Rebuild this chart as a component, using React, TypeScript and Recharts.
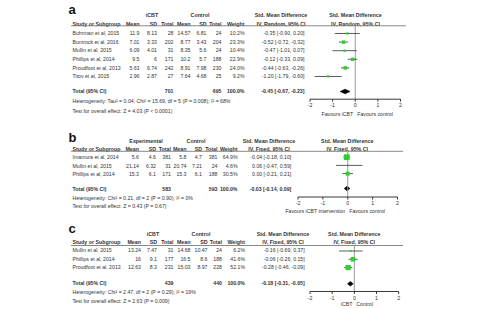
import React from "react";
import { ComposedChart, Scatter, ErrorBar, Area, XAxis, YAxis, ReferenceLine } from "recharts";

const FONT = "'Liberation Sans', Arial, Helvetica, sans-serif";
const INK = "#333333";
const GREEN = "#33cc33";

// ---------- Panel a (iCBT vs Control, random effects)
const A_STUDIES = ["Buhrman et al, 2015", "Buntrock et al, 2016", "Mullin et al, 2015", "Phillips et al, 2014", "Proudfoot et al, 2013", "Titov et al, 2015"];
const A_EXP_MEAN = [11.9, 7.01, 6.09, 9.5, 5.63, 2.96];
const A_EXP_SD = [8.13, 3.33, 4.01, 6, 6.74, 2.87];
const A_EXP_N = [28, 202, 31, 171, 242, 27];
const A_CTL_MEAN = [14.57, 8.77, 8.35, 10.2, 8.91, 7.64];
const A_CTL_SD = [6.81, 3.43, 5.6, 5.7, 7.98, 4.68];
const A_CTL_N = [24, 204, 24, 188, 230, 25];
const A_WEIGHT = [10.2, 23.3, 10.4, 22.9, 24.0, 9.2];
const A_SMD = [-0.35, -0.52, -0.47, -0.12, -0.44, -1.2];
const A_LO = [-0.9, -0.72, -1.01, -0.33, -0.63, -1.79];
const A_HI = [0.2, -0.32, 0.07, 0.09, -0.26, -0.6];
const A_TOTAL_N = [701, 695];
const A_TOTAL_EST = [-0.45, -0.67, -0.23];
const A_GROUPS = ["iCBT", "Control"];
const A_METHOD = "IV, Random, 95% CI";
const A_HET = "Heterogeneity: Tau² = 0.04; Chi² = 15.69, df = 5 (P = 0.008); I² = 68%";
const A_TEST = "Test for overall effect: Z = 4.03 (P < 0.0001)";
const A_FAVOURS = ["Favours iCBT", "Favours control"];

// ---------- Panel b (Experimental vs Control, fixed effects)
const B_STUDIES = ["Imamura et al, 2014", "Mullin et al, 2015", "Phillips et al, 2014"];
const B_EXP_MEAN = [5.6, 21.14, 15.3];
const B_EXP_SD = [4.6, 6.32, 6.1];
const B_EXP_N = [381, 31, 171];
const B_CTL_MEAN = [5.8, 20.74, 15.3];
const B_CTL_SD = [4.7, 7.21, 6.1];
const B_CTL_N = [381, 24, 188];
const B_WEIGHT = [64.9, 4.6, 30.5];
const B_SMD = [-0.04, 0.06, 0.0];
const B_LO = [-0.18, -0.47, -0.21];
const B_HI = [0.1, 0.59, 0.21];
const B_TOTAL_N = [583, 593];
const B_TOTAL_EST = [-0.03, -0.14, 0.09];
const B_GROUPS = ["Experimental", "Control"];
const B_METHOD = "IV, Fixed, 95% CI";
const B_HET = "Heterogeneity: Chi² = 0.21, df = 2 (P = 0.90); I² = 0%";
const B_TEST = "Test for overall effect: Z = 0.43 (P = 0.67)";
const B_FAVOURS = ["Favours iCBT intervention", "Favours control"];

// ---------- Panel c (iCBT vs Control, fixed effects)
const C_STUDIES = ["Mullin et al, 2015", "Phillips et al, 2014", "Proudfoot et al, 2013"];
const C_EXP_MEAN = [13.24, 16, 12.63];
const C_EXP_SD = [7.47, 9.1, 8.3];
const C_EXP_N = [31, 177, 231];
const C_CTL_MEAN = [14.68, 16.5, 15.03];
const C_CTL_SD = [10.47, 8.6, 8.97];
const C_CTL_N = [24, 188, 228];
const C_WEIGHT = [6.2, 41.6, 52.1];
const C_SMD = [-0.16, -0.06, -0.28];
const C_LO = [-0.69, -0.26, -0.46];
const C_HI = [0.37, 0.15, -0.09];
const C_TOTAL_N = [439, 440];
const C_TOTAL_EST = [-0.18, -0.31, -0.05];
const C_GROUPS = ["iCBT", "Control"];
const C_METHOD = "IV, Fixed, 95% CI";
const C_HET = "Heterogeneity: Chi² = 2.47, df = 2 (P = 0.29); I² = 19%";
const C_TEST = "Test for overall effect: Z = 2.63 (P = 0.009)";
const C_FAVOURS = ["iCBT", "Control"];

const COL_HEADS = ["Mean", "SD", "Total", "Mean", "SD", "Total", "Weight"];
const X_TICKS = [-2, -1, 0, 1, 2];

type Row = { study: string; cells: number[]; w: number; smd: number; lo: number; hi: number };

function makeRows(st: string[], m1: number[], s1: number[], n1: number[], m2: number[], s2: number[], n2: number[], w: number[], smd: number[], lo: number[], hi: number[]): Row[] {
  return st.map((s, i) => ({ study: s, cells: [m1[i], s1[i], n1[i], m2[i], s2[i], n2[i]], w: w[i], smd: smd[i], lo: lo[i], hi: hi[i] }));
}

const ci = (e: number, l: number, h: number) => `${e.toFixed(2)} [${l.toFixed(2)}, ${h.toFixed(2)}]`;

// ---------- layouts (pixel positions only)
const LA = {
  letter: "a", letterY: 13.5, groupY: 15, headY: 23.6, lineY: 25.8, lineEnd: 406,
  row0: 33.3, step: 8.6, totalY: 91.3, hetY: 100.8, testY: 110.8,
  cols: [139.5, 157, 173.5, 190.5, 206.5, 221.5, 244.5, 304.5],
  grpX: [152, 200], smdX: 281, plotX: 355.5,
  x0: 310, x1: 400.5, axisY: 99, favY: 114.3, diamondH: 2.3,
};
const LB = {
  letter: "b", letterY: 142, groupY: 140.8, headY: 148.7, lineY: 151.3, lineEnd: 403,
  row0: 157.5, step: 8.2, totalY: 188.8, hetY: 198.2, testY: 206.2,
  cols: [139, 156, 171, 186.5, 202, 217.5, 237.5, 291.3],
  grpX: [146, 196], smdX: 269, plotX: 347.3,
  x0: 297.5, x1: 397, axisY: 197.3, favY: 211, diamondH: 2.3,
};
const LC = {
  letter: "c", letterY: 233.3, groupY: 234.3, headY: 242.3, lineY: 245.5, lineEnd: 403,
  row0: 250.5, step: 8.3, totalY: 283.3, hetY: 292.3, testY: 300.7,
  cols: [141, 157, 173.5, 190.5, 207.5, 222, 245, 304.7],
  grpX: [153, 201], smdX: 283, plotX: 354.3,
  x0: 310, x1: 398.7, axisY: 291, favY: 304.3, diamondH: 2.3,
};

const T = (p: any) => {
  const { x, y, children, anchor = "start", bold = false, size = 5.2, fill = INK } = p;
  return (
    <text x={x} y={y + size * 0.36} textAnchor={anchor} fontSize={size} fontWeight={bold ? "bold" : "normal"} fill={fill} fontFamily={FONT}>
      {children}
    </text>
  );
};

function Table({ L, rows, totalN, totalEst, groups, method, het, test, favours }: any) {
  const c = L.cols;
  const zero = (L.x0 + L.x1) / 2;
  return (
    <g>
      <text x={68.5} y={L.letterY} fontSize={13} fontWeight="bold" fill="#111" fontFamily={FONT}>{L.letter}</text>
      <T x={L.grpX[0]} y={L.groupY} anchor="middle" bold size={5.3}>{groups[0]}</T>
      <T x={L.grpX[1]} y={L.groupY} anchor="middle" bold size={5.3}>{groups[1]}</T>
      <T x={L.smdX} y={L.groupY} anchor="middle" bold size={5.3}>Std. Mean Difference</T>
      <T x={L.plotX} y={L.groupY} anchor="middle" bold size={5.3}>Std. Mean Difference</T>
      <T x={72.5} y={L.headY} bold size={5.3}>Study or Subgroup</T>
      {COL_HEADS.map((h, i) => (
        <T key={i} x={c[i]} y={L.headY} anchor="end" bold size={5.3}>{h}</T>
      ))}
      <T x={L.smdX} y={L.headY} anchor="middle" bold size={5.3}>{method}</T>
      <T x={L.plotX} y={L.headY} anchor="middle" bold size={5.3}>{method}</T>
      <line x1={71} x2={L.lineEnd} y1={L.lineY} y2={L.lineY} stroke="#7a7a7a" strokeWidth={0.9} />
      {rows.map((r: Row, i: number) => {
        const y = L.row0 + i * L.step;
        return (
          <g key={i}>
            <T x={72.5} y={y}>{r.study}</T>
            {r.cells.map((v, j) => (
              <T key={j} x={c[j]} y={y} anchor="end">{String(v)}</T>
            ))}
            <T x={c[6]} y={y} anchor="end">{r.w.toFixed(1) + "%"}</T>
            <T x={c[7]} y={y} anchor="end">{ci(r.smd, r.lo, r.hi)}</T>
          </g>
        );
      })}
      <T x={72.5} y={L.totalY} bold>Total (95% CI)</T>
      <T x={c[2]} y={L.totalY} anchor="end" bold>{String(totalN[0])}</T>
      <T x={c[5]} y={L.totalY} anchor="end" bold>{String(totalN[1])}</T>
      <T x={c[6]} y={L.totalY} anchor="end" bold>100.0%</T>
      <T x={c[7]} y={L.totalY} anchor="end" bold>{ci(totalEst[0], totalEst[1], totalEst[2])}</T>
      <T x={72.5} y={L.hetY}>{het}</T>
      <T x={72.5} y={L.testY}>{test}</T>
      <T x={zero - 2} y={L.favY} anchor="end">{favours[0]}</T>
      <T x={zero + 2} y={L.favY}>{favours[1]}</T>
    </g>
  );
}

const Square = (props: any) => {
  const { cx, cy, payload } = props;
  if (cx == null || cy == null) return null;
  const s = 0.72 * Math.sqrt(payload.w);
  return <rect x={cx - s / 2} y={cy - s / 2} width={s} height={s} fill={GREEN} />;
};

function Forest({ L, rows, totalEst }: any) {
  const pad = 12;
  const xh = 18;
  const width = L.x1 - L.x0 + pad * 2;
  const height = L.axisY - L.lineY + xh;
  const yMin = (L.lineY - L.row0) / L.step;
  const yMax = (L.axisY - L.row0) / L.step;
  const tIdx = (L.totalY - L.row0) / L.step;
  const dh = L.diamondH / L.step;
  const pts = rows.map((r: Row, i: number) => ({ x: r.smd, y: i, err: [r.smd - r.lo, r.hi - r.smd], w: r.w }));
  const diamond = [
    { x: totalEst[1], d: [tIdx, tIdx] },
    { x: totalEst[0], d: [tIdx - dh, tIdx + dh] },
    { x: totalEst[2], d: [tIdx, tIdx] },
  ];
  return (
    <div style={{ position: "absolute", left: L.x0 - pad, top: L.lineY }}>
      <ComposedChart width={width} height={height} data={pts} margin={{ top: 0, right: pad, bottom: 0, left: pad }}>
        <XAxis
          type="number"
          dataKey="x"
          domain={[-2, 2]}
          ticks={X_TICKS}
          interval={0}
          allowDataOverflow
          height={xh}
          tickSize={2.5}
          tickMargin={2}
          axisLine={{ stroke: "#222", strokeWidth: 0.9 }}
          tickLine={{ stroke: "#222", strokeWidth: 0.9 }}
          tick={{ fontSize: 5.3, fill: INK, fontFamily: FONT }}
        />
        <YAxis type="number" dataKey="y" domain={[yMin, yMax]} reversed hide allowDataOverflow />
        <ReferenceLine x={0} stroke="#9a9a9a" strokeWidth={1} />
        <Area
          data={diamond}
          dataKey="d"
          type="linear"
          fill="#000"
          fillOpacity={1}
          stroke="#000"
          strokeWidth={0.6}
          dot={false}
          activeDot={false}
          isAnimationActive={false}
        />
        <Scatter data={pts} dataKey="y" shape={<Square />} isAnimationActive={false}>
          <ErrorBar dataKey="err" direction="x" width={0} stroke="#333" strokeWidth={0.8} />
        </Scatter>
      </ComposedChart>
    </div>
  );
}

const PANELS = [
  {
    L: LA,
    rows: makeRows(A_STUDIES, A_EXP_MEAN, A_EXP_SD, A_EXP_N, A_CTL_MEAN, A_CTL_SD, A_CTL_N, A_WEIGHT, A_SMD, A_LO, A_HI),
    totalN: A_TOTAL_N, totalEst: A_TOTAL_EST, groups: A_GROUPS, method: A_METHOD, het: A_HET, test: A_TEST, favours: A_FAVOURS,
  },
  {
    L: LB,
    rows: makeRows(B_STUDIES, B_EXP_MEAN, B_EXP_SD, B_EXP_N, B_CTL_MEAN, B_CTL_SD, B_CTL_N, B_WEIGHT, B_SMD, B_LO, B_HI),
    totalN: B_TOTAL_N, totalEst: B_TOTAL_EST, groups: B_GROUPS, method: B_METHOD, het: B_HET, test: B_TEST, favours: B_FAVOURS,
  },
  {
    L: LC,
    rows: makeRows(C_STUDIES, C_EXP_MEAN, C_EXP_SD, C_EXP_N, C_CTL_MEAN, C_CTL_SD, C_CTL_N, C_WEIGHT, C_SMD, C_LO, C_HI),
    totalN: C_TOTAL_N, totalEst: C_TOTAL_EST, groups: C_GROUPS, method: C_METHOD, het: C_HET, test: C_TEST, favours: C_FAVOURS,
  },
];

export default function App() {
  return (
    <div style={{ position: "absolute", left: 0, top: 0, width: 477, height: 309, background: "#fff", overflow: "hidden" }}>
      <svg width={477} height={309} style={{ position: "absolute", left: 0, top: 0 }}>
        {PANELS.map((p, i) => (
          <Table key={i} {...p} />
        ))}
      </svg>
      {PANELS.map((p, i) => (
        <Forest key={i} L={p.L} rows={p.rows} totalEst={p.totalEst} />
      ))}
    </div>
  );
}
